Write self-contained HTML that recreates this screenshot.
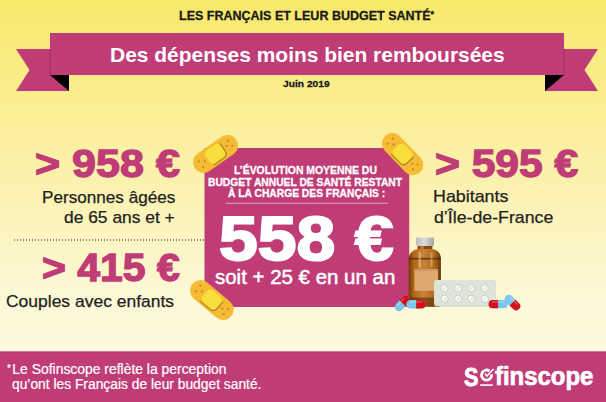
<!DOCTYPE html>
<html><head><meta charset="utf-8">
<style>
html,body{margin:0;padding:0;}
body{width:606px;height:402px;position:relative;overflow:hidden;font-family:"Liberation Sans",sans-serif;
background:linear-gradient(to bottom,#f8e96a 0px,#fbf0a4 150px,#fdf8d8 300px,#fdf9dd 351px);}
.t{position:absolute;white-space:nowrap;line-height:1;transform-origin:0 0;}
svg{position:absolute;left:0;top:0;}
.ill{position:absolute;left:0;top:0;}
</style></head><body>
<svg width="606" height="402" viewBox="0 0 606 402">
  <rect x="0" y="350.4" width="606" height="1.2" fill="#fffce8"/>
  <rect x="0" y="351.6" width="606" height="51" fill="#c03c76"/>
  <rect x="0" y="351.6" width="606" height="1.2" fill="#b8346e"/>
  <polygon points="16,49 69,49 69,91 16,91 29.5,70" fill="#c03c76"/>
  <polygon points="50,75 69,75 69,91" fill="#000"/>
  <polygon points="545,49 598,49 584.5,70 598,91 545,91" fill="#c03c76"/>
  <polygon points="545,75 564,75 545,91" fill="#000"/>
  <rect x="50" y="33" width="514" height="42" fill="#c03c76"/>
  <rect x="49.6" y="49" width="1" height="26" fill="#8e2a58" opacity="0.7"/>
  <rect x="563.4" y="49" width="1" height="26" fill="#8e2a58" opacity="0.7"/>
  <rect x="204.5" y="148" width="204.75" height="159" fill="#c03c76"/>
  <rect x="226" y="202.7" width="162" height="1.1" fill="#dc9cbc"/>
  <line x1="14" y1="240" x2="204" y2="240" stroke="#85857a" stroke-width="2.2" stroke-dasharray="1,2"/>
</svg>
<div class="t" id="hdr" style="left:179.00px;top:9.09px;font-size:13px;font-weight:700;color:#1a1a1a;transform:scaleX(0.9623);-webkit-text-stroke:0.3px #1a1a1a;">LES FRANÇAIS ET LEUR BUDGET SANTÉ<span style="font-size:9.5px;vertical-align:3px;margin-left:0px">*</span></div>
<div class="t" id="ttl" style="left:110.00px;top:44.22px;font-size:21px;font-weight:700;color:#fff;transform:scaleX(0.9975);">Des dépenses moins bien remboursées</div>
<div class="t" id="juin" style="left:283.00px;top:79.00px;font-size:9.8px;font-weight:700;color:#1a1a1a;transform:scaleX(1.0444);-webkit-text-stroke:0.3px #1a1a1a;">Juin 2019</div>
<div class="t" id="n958" style="left:35.00px;top:144.08px;font-size:39px;font-weight:700;color:#c03c76;transform:scaleX(1.1039);-webkit-text-stroke:1.3px #c03c76;">&gt; 958 €</div>
<div class="t" id="pa" style="left:42.20px;top:188.71px;font-size:17px;font-weight:400;color:#231f20;transform:scaleX(1.0077);-webkit-text-stroke:0.25px #231f20;">Personnes âgées</div>
<div class="t" id="d65" style="left:63.80px;top:208.71px;font-size:17px;font-weight:400;color:#231f20;transform:scaleX(1.0235);-webkit-text-stroke:0.25px #231f20;">de 65 ans et +</div>
<div class="t" id="n415" style="left:42.20px;top:248.28px;font-size:39px;font-weight:700;color:#c03c76;transform:scaleX(1.0497);-webkit-text-stroke:1.3px #c03c76;">&gt; 415 €</div>
<div class="t" id="cae" style="left:6.40px;top:292.61px;font-size:17px;font-weight:400;color:#231f20;transform:scaleX(1.0278);-webkit-text-stroke:0.25px #231f20;">Couples avec enfants</div>
<div class="t" id="n595" style="left:435.20px;top:144.38px;font-size:39px;font-weight:700;color:#c03c76;transform:scaleX(1.0917);-webkit-text-stroke:1.3px #c03c76;">&gt; 595 €</div>
<div class="t" id="hab" style="left:433.40px;top:188.01px;font-size:17px;font-weight:400;color:#231f20;transform:scaleX(1.0501);-webkit-text-stroke:0.25px #231f20;">Habitants</div>
<div class="t" id="idf" style="left:434.00px;top:208.51px;font-size:17px;font-weight:400;color:#231f20;transform:scaleX(1.0439);-webkit-text-stroke:0.25px #231f20;">d’Île-de-France</div>
<div class="t" id="c1" style="left:233.80px;top:164.69px;font-size:11px;font-weight:700;color:#fff;transform:scaleX(0.9467);-webkit-text-stroke:0.3px #fff;">L’ÉVOLUTION MOYENNE DU</div>
<div class="t" id="c2" style="left:208.00px;top:176.89px;font-size:11px;font-weight:700;color:#fff;transform:scaleX(0.9348);-webkit-text-stroke:0.3px #fff;">BUDGET ANNUEL DE SANTÉ RESTANT</div>
<div class="t" id="c3" style="left:228.00px;top:188.09px;font-size:11px;font-weight:700;color:#fff;transform:scaleX(0.9345);-webkit-text-stroke:0.3px #fff;">À LA CHARGE DES FRANÇAIS :</div>
<div class="t" id="n558" style="left:219.20px;top:206.88px;font-size:62.5px;font-weight:700;color:#fff;transform:scaleX(1.1154);-webkit-text-stroke:2px #fff;">558 €</div>
<div class="t" id="soit" style="left:215.00px;top:266.57px;font-size:20px;font-weight:400;color:#fff;transform:scaleX(1.0227);-webkit-text-stroke:0.5px #fff;">soit + 25 € en un an</div>
<div class="t" id="f1" style="left:7.40px;top:362.25px;font-size:14px;font-weight:400;color:#fff;transform:scaleX(0.9932);-webkit-text-stroke:0.2px #fff;"><span style="font-size:10px;vertical-align:2px;margin-right:1.5px">*</span>Le Sofinscope reflète la perception</div>
<div class="t" id="f2" style="left:11.60px;top:376.65px;font-size:14px;font-weight:400;color:#fff;transform:scaleX(0.9861);-webkit-text-stroke:0.2px #fff;">qu’ont les Français de leur budget santé.</div>
<div class="t" id="logoS" style="left:464.20px;top:364.61px;font-size:25.5px;font-weight:700;color:#fff;transform:scaleX(0.8456);-webkit-text-stroke:0.9px #fff;">S</div>
<div class="t" id="logoF" style="left:495.40px;top:363.61px;font-size:25.5px;font-weight:700;color:#fff;transform:scaleX(0.9381);-webkit-text-stroke:0.7px #fff;">finscope</div>
<svg class="ill" width="606" height="402" viewBox="0 0 606 402">
  <defs>
    <g id="bd">
      <rect x="-25.25" y="-10.5" width="50.5" height="21" rx="10.5" fill="#f5bb33"/>
      <rect x="-9.6" y="-8" width="18.8" height="15.6" rx="5" fill="#f9df3b"/>
      <path d="M -8,8.1 L 4.4,8.1 Q 9.6,8.1 9.6,2.9 L 9.6,-6.2" stroke="#b3862e" stroke-width="1.3" fill="none"/>
      <g fill="#c4892a">
        <circle cx="-18.1" cy="-3.5" r="1.1"/><circle cx="-17.9" cy="3.5" r="1.1"/><circle cx="-13.2" cy="-0.2" r="1.1"/>
        <circle cx="13.6" cy="-0.3" r="1.1"/><circle cx="18" cy="-3.6" r="1.1"/><circle cx="18.2" cy="3" r="1.1"/>
      </g>
    </g>
    <linearGradient id="capg" x1="0" x2="1" y1="0" y2="0">
      <stop offset="0" stop-color="#bdbebe"/><stop offset="0.45" stop-color="#dcdcdc"/><stop offset="1" stop-color="#a4a5a5"/>
    </linearGradient>
    <linearGradient id="botg" x1="0" x2="1" y1="0" y2="0">
      <stop offset="0" stop-color="#6e3808"/><stop offset="0.15" stop-color="#b06518"/><stop offset="0.45" stop-color="#c8843a"/><stop offset="0.8" stop-color="#b06a20"/><stop offset="1" stop-color="#66340a"/>
    </linearGradient>
  </defs>
  <use href="#bd" transform="translate(215.6,153.9) rotate(-35)"/>
  <use href="#bd" transform="translate(402.6,154.1) rotate(46)"/>
  <use href="#bd" transform="translate(211.8,300.1) rotate(40)"/>
  <!-- bottle -->
  <rect x="417.6" y="245" width="14.8" height="5" fill="#8c4a12"/>
  <rect x="420" y="245" width="4" height="5" fill="#c7813a" opacity="0.7"/>
  <path d="M417.6,249 L432.4,249 C438.5,250.5 440.9,254 440.9,259 L440.9,304 Q440.9,306.8 437.5,306.8 L412,306.8 Q408.7,306.8 408.7,304 L408.7,259 C408.7,254 411.5,250.5 417.6,249 Z" fill="url(#botg)"/>
  <rect x="408.7" y="257.8" width="32.2" height="1.8" fill="#4e2808" opacity="0.75"/>
  <rect x="418.5" y="252" width="2.4" height="16" fill="#f0c38e" opacity="0.6"/>
  <rect x="430.5" y="252" width="2" height="15" fill="#f0c38e" opacity="0.5"/>
  <rect x="414.4" y="269" width="23.6" height="21.8" fill="#dea86e"/>
  <rect x="414.4" y="269" width="23.6" height="2" fill="#c98e55" opacity="0.6"/>
  <rect x="408.7" y="297.5" width="32.2" height="9.3" rx="2.5" fill="#4a2405" opacity="0.55"/>
  <rect x="416" y="237.4" width="18" height="8.6" rx="1" fill="url(#capg)"/>
  <!-- blister -->
  <rect x="434.1" y="279.9" width="61.9" height="26.7" rx="3.2" fill="#c9d0c4"/>
  <rect x="434.1" y="279.9" width="61.9" height="25.5" rx="3.2" fill="#dee4d8"/>
  <g fill="#f7f8f6" stroke="#bfc6bc" stroke-width="0.8">
    <circle cx="444.5" cy="288.2" r="3.7"/><circle cx="458.1" cy="288.2" r="3.7"/><circle cx="471.3" cy="288.2" r="3.7"/><circle cx="484.8" cy="288.2" r="3.7"/><circle cx="444.5" cy="298.9" r="3.7"/><circle cx="458.1" cy="298.9" r="3.7"/><circle cx="471.3" cy="298.9" r="3.7"/><circle cx="484.8" cy="298.9" r="3.7"/>
  </g>
  <g stroke="#c9cfc7" stroke-width="0.8"><line x1="442.7" y1="290.2" x2="446.3" y2="286.2"/><line x1="456.3" y1="290.2" x2="459.9" y2="286.2"/><line x1="469.5" y1="290.2" x2="473.1" y2="286.2"/><line x1="483.0" y1="290.2" x2="486.6" y2="286.2"/><line x1="442.7" y1="300.9" x2="446.3" y2="296.9"/><line x1="456.3" y1="300.9" x2="459.9" y2="296.9"/><line x1="469.5" y1="300.9" x2="473.1" y2="296.9"/><line x1="483.0" y1="300.9" x2="486.6" y2="296.9"/></g>
  <!-- capsules -->
  <g transform="translate(402.4,303.3) rotate(-48)">
    <rect x="-9.2" y="-4.2" width="18.4" height="8.4" rx="4.2" fill="#7cc6ee"/>
    <path d="M0,-4.2 H5 A4.2,4.2 0 0 1 5,4.2 H0 Z" fill="#d3111c"/><rect x="-6" y="-2.8" width="11" height="1.3" rx="0.6" fill="#fff" opacity="0.3"/>
  </g>
  <g transform="translate(416.1,304.2) rotate(0)">
    <rect x="-9.8" y="-4.25" width="19.6" height="8.5" rx="4.25" fill="#7cc6ee"/>
    <path d="M0,-4.25 H5.55 A4.25,4.25 0 0 1 5.55,4.25 H0 Z" fill="#d3111c"/><rect x="-6" y="-2.9" width="12" height="1.3" rx="0.6" fill="#fff" opacity="0.3"/>
  </g>
  <g transform="translate(498.1,304.2) rotate(180)">
    <rect x="-9.5" y="-4.1" width="19" height="8.2" rx="4.1" fill="#7cc6ee"/>
    <path d="M0,-4.1 H5.4 A4.1,4.1 0 0 1 5.4,4.1 H0 Z" fill="#d3111c"/><rect x="-6" y="1.6" width="12" height="1.3" rx="0.6" fill="#fff" opacity="0.3"/>
  </g>
  <g transform="translate(512.5,302.6) rotate(45)">
    <rect x="-9.2" y="-4.1" width="18.4" height="8.2" rx="4.1" fill="#7cc6ee"/>
    <path d="M0,-4.1 H5.1 A4.1,4.1 0 0 1 5.1,4.1 H0 Z" fill="#d3111c"/><rect x="-6" y="-2.8" width="11" height="1.3" rx="0.6" fill="#fff" opacity="0.3"/>
  </g>
  <!-- logo o -->
  <g fill="none" stroke="#fff">
    <path d="M489.5,371.0 A5,5 0 1 0 491.5,374.2" stroke-width="2.8"/>
    <path d="M484.9,373.6 L486.9,376.1 L493.6,369.0" stroke-width="1.6"/>
  </g>
  <rect x="480.2" y="384.3" width="12.6" height="1.6" fill="#fff"/>
</svg>
</body></html>
